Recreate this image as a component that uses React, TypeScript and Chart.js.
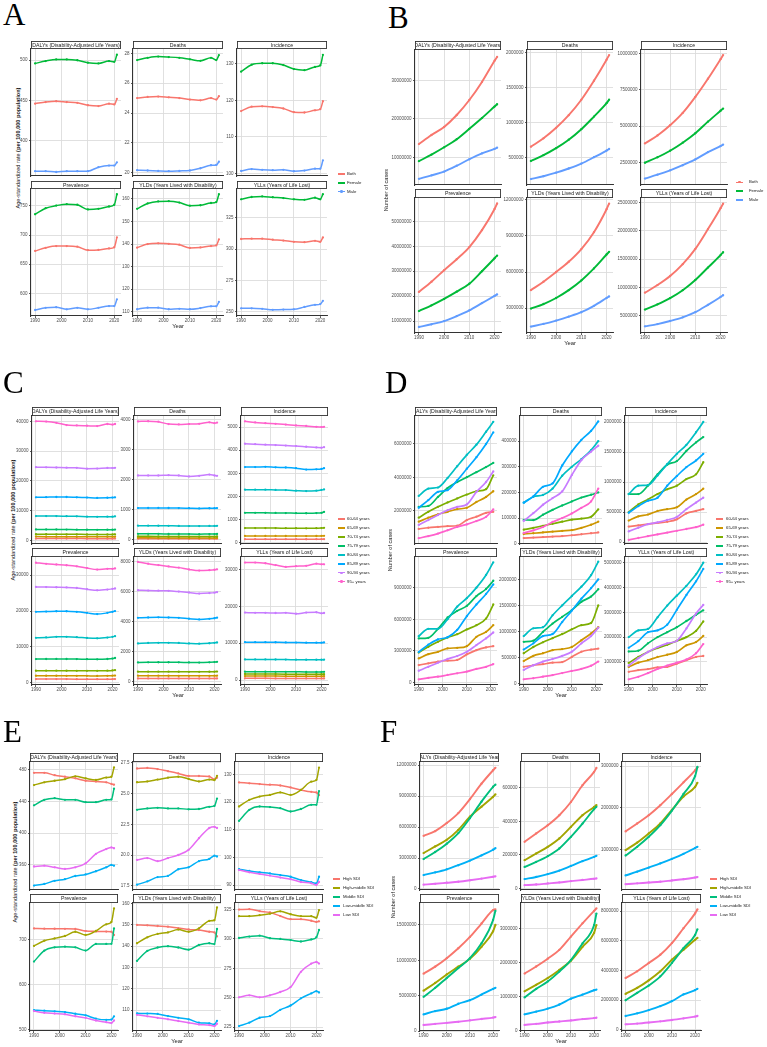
import { useEffect, useRef } from "react";
import type { ReactNode, CSSProperties } from "react";
import { Chart, registerables } from "chart.js";

Chart.register(...registerables);

// ---------- labels & palettes ----------
const METRICS = [
  "DALYs (Disability-Adjusted Life Years)",
  "Deaths",
  "Incidence",
  "Prevalence",
  "YLDs (Years Lived with Disability)",
  "YLLs (Years of Life Lost)",
];
const SEXES = ["Both", "Female", "Male"];
const AGES = ["60-64 years", "65-69 years", "70-74 years", "75-79 years", "80-84 years", "85-89 years", "90-94 years", "95+ years"];
const SDIS = ["High SDI", "High-middle SDI", "Middle SDI", "Low-middle SDI", "Low SDI"];

const SEX_COLORS = ["#F8766D", "#00BA38", "#619CFF"];
const AGE_COLORS = ["#F8766D", "#CD9600", "#7CAE00", "#00BE67", "#00BFC4", "#00A9FF", "#C77CFF", "#FF61CC"];
const SDI_COLORS = ["#F8766D", "#A3A500", "#00BF7D", "#00B0F6", "#E76BF3"];

const YEAR_TICKS = [1990, 2000, 2010, 2020];
const YEARS_RATE = [1990, 1994, 1998, 2002, 2006, 2010, 2014, 2018, 2020, 2021];
const YEARS_COUNT = [1990, 1995, 2000, 2005, 2010, 2015, 2020, 2021];
const YEARS_AGE_COUNT = [1990, 1994, 1998, 2002, 2006, 2010, 2014, 2018, 2021];

// ---------- A: age-standardized rates by sex (Both, Female, Male) ----------
const A_DALYS = [
  [446, 448, 449, 448, 447, 444, 443, 446, 445, 452],
  [496, 499, 501, 501, 500, 497, 496, 499, 498, 507],
  [362, 362, 361, 362, 362, 362, 367, 369, 369, 373],
];
const A_DEATHS = [
  [25.0, 25.08, 25.1, 25.05, 25.0, 24.9, 24.85, 25.0, 24.9, 25.13],
  [27.55, 27.7, 27.78, 27.75, 27.7, 27.6, 27.5, 27.7, 27.55, 27.88],
  [20.17, 20.15, 20.12, 20.1, 20.12, 20.15, 20.3, 20.5, 20.52, 20.74],
];
const A_INCIDENCE = [
  [117.1, 118.3, 118.4, 118.2, 117.8, 116.8, 116.7, 117.3, 117.6, 119.8],
  [127.9, 129.8, 130.2, 130.2, 129.7, 128.6, 128.3, 129.2, 129.6, 132.5],
  [100.7, 101.2, 101.0, 100.9, 101.0, 100.6, 100.8, 101.3, 101.3, 103.6],
];
const A_PREVALENCE = [
  [672.7, 678, 681, 681, 680, 674, 674.5, 677, 679, 696],
  [735.7, 746, 750.5, 753, 752, 744, 745, 749, 752, 770],
  [571.3, 575, 576, 572.5, 575, 572.5, 575, 578, 578, 589.7],
];
const A_YLDS = [
  [138.4, 140.0, 140.3, 140.1, 139.7, 138.3, 138.5, 139.1, 139.4, 142.1],
  [155.6, 158.0, 158.9, 159.0, 158.4, 157.0, 157.2, 158.2, 158.6, 162.1],
  [111.1, 111.8, 111.8, 111.1, 111.3, 111.1, 111.6, 112.4, 112.4, 114.4],
];
const A_YLLS = [
  [308, 308.3, 308.3, 307.5, 306.8, 305.8, 305.5, 306.6, 305.8, 309.3],
  [339.7, 341.5, 342.0, 341.3, 340.7, 339.7, 339.3, 341.0, 339.7, 343.8],
  [252.7, 252.7, 252.3, 251.5, 251.7, 251.9, 253.8, 255.5, 256.1, 258.7],
];

// ---------- B: number of cases by sex ----------
const B_DALYS = [
  [13.45e6, 15.8e6, 17.9e6, 21.0e6, 24.9e6, 29.6e6, 35.1e6, 36.1e6],
  [9.0e6, 10.7e6, 12.6e6, 14.7e6, 17.4e6, 20.2e6, 23.2e6, 23.8e6],
  [4.4e6, 5.3e6, 6.3e6, 7.8e6, 9.5e6, 11.0e6, 12.2e6, 12.5e6],
];
const B_DEATHS = [
  [660e3, 780e3, 930e3, 1110e3, 1330e3, 1600e3, 1900e3, 1965e3],
  [457e3, 540e3, 640e3, 760e3, 910e3, 1090e3, 1280e3, 1330e3],
  [200e3, 240e3, 290e3, 350e3, 420e3, 510e3, 605e3, 628e3],
];
const B_INCIDENCE = [
  [3.8e6, 4.35e6, 5.05e6, 5.9e6, 7.0e6, 8.25e6, 9.6e6, 9.88e6],
  [2.47e6, 2.85e6, 3.3e6, 3.85e6, 4.5e6, 5.3e6, 6.05e6, 6.2e6],
  [1.38e6, 1.65e6, 1.95e6, 2.3e6, 2.7e6, 3.2e6, 3.62e6, 3.72e6],
];
const B_PREVALENCE = [
  [21.7e6, 25.8e6, 30.4e6, 34.8e6, 39.7e6, 46.5e6, 55.0e6, 57.2e6],
  [14.0e6, 16.3e6, 18.9e6, 21.8e6, 25.0e6, 30.0e6, 35.2e6, 36.3e6],
  [7.6e6, 8.7e6, 10.0e6, 12.0e6, 14.3e6, 17.2e6, 20.1e6, 20.7e6],
];
const B_YLDS = [
  [4.5e6, 5.2e6, 6.0e6, 6.85e6, 7.9e6, 9.3e6, 11.2e6, 11.67e6],
  [2.97e6, 3.35e6, 3.85e6, 4.5e6, 5.3e6, 6.3e6, 7.45e6, 7.67e6],
  [1.48e6, 1.7e6, 1.98e6, 2.3e6, 2.67e6, 3.2e6, 3.85e6, 3.98e6],
];
const B_YLLS = [
  [9.05e6, 10.4e6, 12.0e6, 14.1e6, 16.8e6, 20.3e6, 24.0e6, 24.8e6],
  [6.06e6, 7.0e6, 8.1e6, 9.5e6, 11.3e6, 13.5e6, 15.7e6, 16.2e6],
  [3.1e6, 3.5e6, 4.05e6, 4.7e6, 5.6e6, 6.9e6, 8.3e6, 8.6e6],
];

// ---------- C: age-standardized rates by age group ----------
const C_DALYS = [
  [650, 640, 640, 630, 630, 620, 620, 620, 620, 630],
  [1300, 1290, 1280, 1270, 1260, 1250, 1250, 1250, 1250, 1270],
  [2100, 2090, 2080, 2070, 2060, 2040, 2040, 2050, 2050, 2080],
  [3700, 3690, 3680, 3660, 3640, 3600, 3580, 3600, 3610, 3650],
  [8200, 8200, 8200, 8150, 8100, 8000, 7950, 8000, 8000, 8100],
  [14500, 14550, 14600, 14600, 14500, 14400, 14300, 14350, 14400, 14500],
  [24600, 24550, 24500, 24450, 24400, 24100, 24150, 24350, 24300, 24400],
  [40000, 39900, 39500, 38750, 38600, 38500, 38400, 39100, 38900, 39100],
];
const C_DEATHS = [
  [28, 27, 27, 26, 26, 25, 25, 25, 25, 26],
  [55, 54, 53, 52, 51, 50, 50, 50, 50, 51],
  [105, 104, 103, 101, 100, 98, 97, 98, 98, 100],
  [190, 189, 188, 186, 184, 180, 178, 180, 180, 183],
  [460, 460, 458, 455, 452, 448, 445, 450, 450, 455],
  [1045, 1048, 1050, 1048, 1045, 1040, 1035, 1040, 1040, 1045],
  [2130, 2130, 2130, 2140, 2130, 2100, 2120, 2160, 2130, 2120],
  [3930, 3935, 3920, 3840, 3830, 3840, 3850, 3900, 3870, 3890],
];
const C_INCIDENCE = [
  [150, 150, 150, 149, 148, 147, 146, 147, 148, 150],
  [290, 290, 290, 288, 287, 285, 284, 286, 290, 295],
  [630, 630, 630, 628, 625, 622, 620, 625, 630, 640],
  [1290, 1290, 1290, 1285, 1280, 1275, 1270, 1280, 1290, 1330],
  [2290, 2290, 2290, 2280, 2275, 2250, 2230, 2250, 2280, 2300],
  [3270, 3270, 3280, 3260, 3250, 3220, 3160, 3170, 3190, 3220],
  [4280, 4260, 4240, 4220, 4200, 4180, 4150, 4120, 4110, 4130],
  [5250, 5200, 5170, 5140, 5110, 5070, 5050, 5010, 5000, 5010],
];
const C_PREVALENCE = [
  [1020, 1020, 1020, 1010, 1000, 990, 985, 990, 1000, 1010],
  [1940, 1940, 1940, 1930, 1920, 1910, 1900, 1920, 1950, 2000],
  [3340, 3350, 3350, 3340, 3330, 3320, 3310, 3350, 3420, 3500],
  [6600, 6620, 6640, 6620, 6600, 6560, 6540, 6620, 6750, 6900],
  [12540, 12650, 12800, 12800, 12700, 12500, 12400, 12600, 12800, 13000],
  [19800, 19850, 19950, 19950, 19800, 19500, 19150, 19500, 19800, 20000],
  [26750, 26700, 26650, 26600, 26450, 26100, 25800, 26000, 26200, 26300],
  [33500, 33200, 33000, 32800, 32500, 32000, 31600, 31800, 31800, 31900],
];
const C_YLDS = [
  [220, 220, 220, 218, 217, 215, 214, 216, 218, 222],
  [400, 400, 400, 398, 396, 393, 391, 395, 400, 405],
  [670, 670, 670, 668, 665, 660, 657, 665, 672, 680],
  [1290, 1295, 1300, 1300, 1295, 1285, 1280, 1295, 1310, 1330],
  [2560, 2590, 2600, 2600, 2590, 2560, 2540, 2570, 2600, 2620],
  [4270, 4290, 4300, 4290, 4270, 4210, 4160, 4200, 4240, 4280],
  [6110, 6090, 6080, 6070, 6020, 5960, 5890, 5920, 5950, 5980],
  [8000, 7880, 7790, 7700, 7620, 7500, 7420, 7450, 7480, 7510],
];
const C_YLLS = [
  [460, 455, 450, 445, 440, 435, 430, 430, 430, 435],
  [1080, 1075, 1070, 1060, 1050, 1040, 1030, 1030, 1030, 1040],
  [1630, 1625, 1620, 1610, 1600, 1590, 1580, 1580, 1580, 1590],
  [2260, 2255, 2250, 2240, 2230, 2220, 2210, 2210, 2210, 2220],
  [5600, 5600, 5590, 5570, 5550, 5520, 5500, 5500, 5500, 5520],
  [10270, 10280, 10280, 10250, 10220, 10180, 10150, 10150, 10150, 10200],
  [18300, 18250, 18250, 18200, 18250, 18000, 18300, 18400, 18100, 18200],
  [31900, 31900, 31700, 31200, 30700, 30900, 31000, 31600, 31400, 31400],
];

// ---------- D: number of cases by age group ----------
const D_DALYS = [
  [0.93e6, 1.0e6, 1.05e6, 1.1e6, 1.12e6, 1.46e6, 1.66e6, 1.89e6, 1.95e6],
  [1.36e6, 1.6e6, 1.8e6, 1.95e6, 2.11e6, 2.19e6, 2.54e6, 2.84e6, 3.18e6],
  [1.6e6, 1.95e6, 2.25e6, 2.51e6, 2.75e6, 2.98e6, 3.18e6, 3.3e6, 4.13e6],
  [2.25e6, 2.3e6, 2.84e6, 3.37e6, 3.73e6, 4.02e6, 4.32e6, 4.62e6, 4.87e6],
  [2.9e6, 3.34e6, 3.4e6, 3.97e6, 4.67e6, 5.35e6, 5.96e6, 6.73e6, 7.32e6],
  [2.19e6, 2.65e6, 3.14e6, 3.24e6, 3.83e6, 4.52e6, 5.21e6, 6.0e6, 6.69e6],
  [1.17e6, 1.46e6, 1.76e6, 2.05e6, 2.25e6, 2.39e6, 3.14e6, 3.73e6, 4.36e6],
  [0.38e6, 0.5e6, 0.65e6, 0.85e6, 1.05e6, 1.2e6, 1.4e6, 1.65e6, 2.1e6],
];
const D_DEATHS = [
  [22e3, 24e3, 26e3, 28e3, 30e3, 33e3, 37e3, 41e3, 44e3],
  [38e3, 41e3, 44e3, 47e3, 50e3, 53e3, 62e3, 74e3, 86e3],
  [55e3, 62e3, 70e3, 78e3, 86e3, 94e3, 98e3, 105e3, 134e3],
  [93e3, 92e3, 113e3, 132e3, 149e3, 165e3, 180e3, 191e3, 200e3],
  [160e3, 183e3, 190e3, 215e3, 265e3, 300e3, 330e3, 365e3, 400e3],
  [160e3, 185e3, 222e3, 235e3, 305e3, 360e3, 405e3, 440e3, 477e3],
  [89e3, 119e3, 152e3, 178e3, 204e3, 268e3, 326e3, 359e3, 382e3],
  [42e3, 52e3, 65e3, 85e3, 100e3, 118e3, 140e3, 165e3, 215e3],
];
const D_INCIDENCE = [
  [0.26e6, 0.28e6, 0.3e6, 0.32e6, 0.34e6, 0.38e6, 0.48e6, 0.52e6, 0.55e6],
  [0.36e6, 0.43e6, 0.46e6, 0.52e6, 0.55e6, 0.58e6, 0.71e6, 0.8e6, 0.89e6],
  [0.5e6, 0.63e6, 0.71e6, 0.8e6, 0.88e6, 0.94e6, 1.05e6, 1.13e6, 1.33e6],
  [0.8e6, 0.8e6, 0.94e6, 1.13e6, 1.29e6, 1.35e6, 1.52e6, 1.66e6, 1.75e6],
  [0.8e6, 0.94e6, 0.95e6, 1.11e6, 1.3e6, 1.47e6, 1.62e6, 1.83e6, 2.0e6],
  [0.49e6, 0.6e6, 0.69e6, 0.74e6, 0.94e6, 1.1e6, 1.25e6, 1.36e6, 1.47e6],
  [0.18e6, 0.24e6, 0.3e6, 0.33e6, 0.37e6, 0.42e6, 0.55e6, 0.66e6, 0.74e6],
  [0.04e6, 0.07e6, 0.1e6, 0.13e6, 0.16e6, 0.19e6, 0.22e6, 0.25e6, 0.29e6],
];
const D_PREVALENCE = [
  [1.67e6, 1.83e6, 2.0e6, 2.08e6, 2.15e6, 2.68e6, 3.08e6, 3.34e6, 3.46e6],
  [2.3e6, 2.7e6, 2.92e6, 3.25e6, 3.3e6, 3.46e6, 4.34e6, 4.81e6, 5.44e6],
  [2.85e6, 3.4e6, 3.87e6, 4.28e6, 4.59e6, 5.04e6, 5.44e6, 6.07e6, 7.4e6],
  [4.19e6, 4.25e6, 5.1e6, 6.17e6, 6.8e6, 7.27e6, 8.2e6, 8.87e6, 9.65e6],
  [4.4e6, 5.1e6, 5.1e6, 6.0e6, 7.2e6, 8.0e6, 9.0e6, 10.2e6, 11.4e6],
  [2.9e6, 3.6e6, 4.1e6, 4.3e6, 5.0e6, 6.3e6, 7.4e6, 8.4e6, 9.3e6],
  [1.13e6, 1.5e6, 1.89e6, 2.24e6, 2.52e6, 2.92e6, 3.56e6, 4.19e6, 4.75e6],
  [0.32e6, 0.45e6, 0.57e6, 0.73e6, 0.89e6, 1.05e6, 1.3e6, 1.5e6, 1.76e6],
];
const D_YLDS = [
  [0.32e6, 0.35e6, 0.37e6, 0.4e6, 0.41e6, 0.51e6, 0.61e6, 0.65e6, 0.67e6],
  [0.43e6, 0.53e6, 0.58e6, 0.64e6, 0.66e6, 0.7e6, 0.83e6, 0.96e6, 1.08e6],
  [0.58e6, 0.7e6, 0.79e6, 0.87e6, 0.95e6, 1.04e6, 1.12e6, 1.16e6, 1.5e6],
  [0.8e6, 0.82e6, 0.99e6, 1.15e6, 1.28e6, 1.41e6, 1.57e6, 1.67e6, 1.81e6],
  [0.91e6, 1.06e6, 1.08e6, 1.31e6, 1.5e6, 1.68e6, 1.86e6, 2.08e6, 2.34e6],
  [0.65e6, 0.77e6, 0.91e6, 0.95e6, 1.18e6, 1.4e6, 1.63e6, 1.83e6, 2.0e6],
  [0.26e6, 0.35e6, 0.42e6, 0.47e6, 0.53e6, 0.61e6, 0.77e6, 0.91e6, 1.07e6],
  [0.08e6, 0.1e6, 0.13e6, 0.16e6, 0.2e6, 0.24e6, 0.28e6, 0.34e6, 0.42e6],
];
const D_YLLS = [
  [0.6e6, 0.67e6, 0.71e6, 0.78e6, 0.8e6, 0.93e6, 1.07e6, 1.2e6, 1.24e6],
  [0.8e6, 0.97e6, 1.07e6, 1.2e6, 1.29e6, 1.4e6, 1.67e6, 1.8e6, 2.05e6],
  [0.96e6, 1.2e6, 1.4e6, 1.56e6, 1.69e6, 1.85e6, 2.0e6, 2.25e6, 2.63e6],
  [1.42e6, 1.45e6, 1.75e6, 2.0e6, 2.2e6, 2.4e6, 2.65e6, 2.9e6, 3.08e6],
  [2.0e6, 2.27e6, 2.33e6, 2.8e6, 3.27e6, 3.67e6, 4.07e6, 4.53e6, 5.0e6],
  [1.57e6, 1.84e6, 2.2e6, 2.27e6, 2.5e6, 3.1e6, 3.7e6, 4.25e6, 4.75e6],
  [0.85e6, 1.15e6, 1.4e6, 1.6e6, 1.75e6, 1.85e6, 2.35e6, 2.95e6, 3.3e6],
  [0.3e6, 0.4e6, 0.55e6, 0.72e6, 0.85e6, 0.97e6, 1.1e6, 1.35e6, 1.72e6],
];

// ---------- E: age-standardized rates by SDI ----------
const E_DALYS = [
  [476, 476, 473, 471, 469, 466, 465, 464, 462, 461],
  [460.5, 464, 466, 468, 471.5, 469, 467, 470, 471, 482.8],
  [435, 442, 444, 442, 442, 439, 439, 442, 442.5, 456],
  [334, 336, 340, 342, 346, 348, 352, 357, 360, 359],
  [358, 359, 357, 355, 357, 362, 374, 380, 382, 381],
];
const E_DEATHS = [
  [27.05, 27.1, 27.0, 26.83, 26.65, 26.44, 26.44, 26.4, 26.17, 26.3],
  [25.93, 26.0, 26.15, 26.3, 26.38, 26.2, 26.0, 26.15, 26.1, 26.45],
  [23.68, 23.8, 23.85, 23.8, 23.8, 23.72, 23.75, 23.93, 24.0, 24.6],
  [17.58, 17.85, 18.2, 18.3, 18.84, 19.0, 19.5, 19.68, 19.95, 19.88],
  [19.6, 19.75, 19.5, 19.75, 20.0, 20.42, 21.37, 22.2, 22.3, 22.2],
];
const E_INCIDENCE = [
  [127.1, 126.8, 126.5, 126.3, 126.0, 125.3, 124.4, 123.7, 123.5, 122.5],
  [118.4, 120.8, 122.0, 122.6, 123.5, 122.6, 124.4, 127.4, 128.0, 132.5],
  [113.2, 117.2, 118.4, 118.2, 117.8, 116.6, 117.5, 119.0, 119.0, 124.0],
  [95.7, 95.1, 94.6, 94.2, 93.6, 93.0, 91.8, 91.0, 90.6, 93.0],
  [95.4, 94.6, 94.0, 93.4, 92.7, 92.1, 91.1, 90.6, 90.0, 91.1],
];
const E_PREVALENCE = [
  [724.3, 723.8, 723.5, 723.3, 723, 718.3, 717.7, 717.3, 717, 709.6],
  [685.3, 697, 702, 707.4, 716.9, 709.6, 718.5, 733.4, 738.5, 768.7],
  [650.6, 674.9, 682.3, 683.8, 682.3, 675, 689.7, 689.7, 690, 724.3],
  [542.6, 541.5, 540, 538.3, 534.6, 531.1, 523.7, 521, 521.7, 528.9],
  [540.4, 536.7, 535, 533.4, 529, 525.4, 519.5, 515.8, 513.9, 519.5],
];
const E_YLDS = [
  [150, 149.8, 149.5, 149.2, 148.5, 147.9, 147.6, 146.8, 146.5, 144.6],
  [141.4, 144.2, 145.8, 146.5, 147.8, 146.8, 148.4, 151.9, 152.2, 158.2],
  [133.1, 137.8, 139.4, 140, 139.4, 138.4, 140.6, 141.4, 141, 148.1],
  [108.5, 108.4, 108.2, 107.2, 106.4, 105.7, 104.1, 103.8, 103.3, 105],
  [107.8, 107.1, 106.4, 105.7, 104.9, 104.1, 103.3, 103, 102.5, 103.6],
];
const E_YLLS = [
  [325, 325.3, 323.6, 322.5, 319.5, 316.8, 316.8, 315.5, 314.5, 315],
  [319.4, 319.4, 320.2, 321.5, 323.5, 321, 319.4, 319.4, 318, 324.6],
  [300.8, 302, 302.8, 300.6, 300, 299, 297.8, 299.6, 301.5, 307.6],
  [225.8, 228.7, 232.9, 234.3, 239.6, 243.3, 249.4, 253.6, 255.5, 254.4],
  [250.3, 252, 250.3, 252, 254.8, 259, 272, 279, 280.4, 279],
];

// ---------- F: number of cases by SDI ----------
const F_DALYS = [
  [5.15e6, 5.6e6, 6.38e6, 7.35e6, 8.7e6, 10.2e6, 11.5e6, 11.74e6],
  [3.48e6, 4.12e6, 4.76e6, 5.73e6, 7.0e6, 7.97e6, 8.93e6, 9.16e6],
  [2.9e6, 3.58e6, 4.38e6, 5.41e6, 6.86e6, 8.46e6, 9.9e6, 10.1e6],
  [1.35e6, 1.6e6, 1.9e6, 2.3e6, 2.75e6, 3.25e6, 3.8e6, 3.95e6],
  [0.42e6, 0.5e6, 0.6e6, 0.7e6, 0.84e6, 1.0e6, 1.18e6, 1.22e6],
];
const F_DEATHS = [
  [278e3, 328e3, 377e3, 437e3, 516e3, 616e3, 696e3, 719e3],
  [168e3, 208e3, 248e3, 298e3, 367e3, 437e3, 486e3, 497e3],
  [128e3, 158e3, 192e3, 238e3, 308e3, 387e3, 473e3, 487e3],
  [55e3, 68e3, 85e3, 106e3, 134e3, 162e3, 188e3, 194e3],
  [19e3, 23e3, 29e3, 35e3, 43e3, 50e3, 57e3, 59e3],
];
const F_INCIDENCE = [
  [1.43e6, 1.62e6, 1.82e6, 2.06e6, 2.33e6, 2.61e6, 2.9e6, 2.97e6],
  [0.98e6, 1.16e6, 1.38e6, 1.62e6, 1.95e6, 2.27e6, 2.5e6, 2.6e6],
  [0.85e6, 1.06e6, 1.3e6, 1.58e6, 1.93e6, 2.33e6, 2.76e6, 2.98e6],
  [0.37e6, 0.46e6, 0.56e6, 0.66e6, 0.77e6, 0.89e6, 1.03e6, 1.06e6],
  [0.16e6, 0.18e6, 0.2e6, 0.22e6, 0.25e6, 0.28e6, 0.32e6, 0.33e6],
];
const F_PREVALENCE = [
  [8.1e6, 9.1e6, 10.3e6, 11.7e6, 13.3e6, 15.2e6, 17.1e6, 17.2e6],
  [5.7e6, 6.8e6, 8.0e6, 9.1e6, 10.2e6, 11.9e6, 14.1e6, 15.0e6],
  [4.83e6, 6.1e6, 7.5e6, 8.9e6, 10.3e6, 12.4e6, 15.7e6, 17.0e6],
  [2.35e6, 2.81e6, 3.15e6, 3.85e6, 4.35e6, 5.15e6, 5.95e6, 6.1e6],
  [0.85e6, 1.0e6, 1.15e6, 1.3e6, 1.5e6, 1.7e6, 1.9e6, 1.97e6],
];
const F_YLDS = [
  [1.67e6, 1.88e6, 2.11e6, 2.37e6, 2.76e6, 3.15e6, 3.52e6, 3.59e6],
  [1.15e6, 1.34e6, 1.54e6, 1.78e6, 2.05e6, 2.46e6, 2.87e6, 3.1e6],
  [0.97e6, 1.22e6, 1.44e6, 1.73e6, 2.07e6, 2.56e6, 3.1e6, 3.44e6],
  [0.47e6, 0.55e6, 0.64e6, 0.76e6, 0.93e6, 1.05e6, 1.18e6, 1.2e6],
  [0.16e6, 0.19e6, 0.23e6, 0.26e6, 0.29e6, 0.33e6, 0.36e6, 0.37e6],
];
const F_YLLS = [
  [3.5e6, 3.95e6, 4.51e6, 5.07e6, 5.85e6, 6.85e6, 7.85e6, 8.12e6],
  [2.43e6, 2.83e6, 3.34e6, 3.95e6, 4.73e6, 5.4e6, 6.07e6, 6.2e6],
  [2.0e6, 2.5e6, 2.99e6, 3.61e6, 4.51e6, 5.51e6, 6.4e6, 6.78e6],
  [0.94e6, 1.12e6, 1.34e6, 1.6e6, 1.94e6, 2.39e6, 2.68e6, 2.77e6],
  [0.38e6, 0.43e6, 0.5e6, 0.58e6, 0.67e6, 0.78e6, 0.9e6, 0.94e6],
];

// ---------- types ----------
type Plot = { series: number[][]; ticks: number[]; range: [number, number]; digits?: number };
type Geom = {
  colX: number[];
  plotW: number;
  rowY: number[];
  plotH: number;
  stripH: number;
  axW: number;
  letter: { x: number; baseline: number };
  yTitle: { x: number; y: number };
  legend: { lineX: number; textX: number; y0: number; dy: number };
};
type PanelSpec = {
  letter: string;
  years: number[];
  names: string[];
  colors: string[];
  plots: Plot[];
  geom: Geom;
  rate: boolean;
  lineWidth: number;
};

// ---------- panels ----------
const PANELS: PanelSpec[] = [
  {
    letter: "A",
    years: YEARS_RATE,
    names: SEXES,
    colors: SEX_COLORS,
    rate: true,
    lineWidth: 1.5,
    plots: [
      { series: A_DALYS, ticks: [400, 450, 500], range: [356, 514] },
      { series: A_DEATHS, ticks: [20, 22, 24, 26, 28], range: [19.78, 28.29] },
      { series: A_INCIDENCE, ticks: [100, 110, 120, 130], range: [99.3, 134.1] },
      { series: A_PREVALENCE, ticks: [600, 650, 700, 750], range: [561, 779] },
      { series: A_YLDS, ticks: [110, 120, 130, 140, 150, 160], range: [108.1, 164.4] },
      { series: A_YLLS, ticks: [250, 275, 300, 325], range: [246.6, 347.9] },
    ],
    geom: {
      colX: [31, 133, 237], plotW: 90, rowY: [49, 189], plotH: 127, stripH: 8, axW: 22,
      letter: { x: 3, baseline: 25 },
      yTitle: { x: 17.5, y: 148 },
      legend: { lineX: 338, textX: 347, y0: 174, dy: 8.8 },
    },
  },
  {
    letter: "B",
    years: YEARS_COUNT,
    names: SEXES,
    colors: SEX_COLORS,
    rate: false,
    lineWidth: 1.9,
    plots: [
      { series: B_DALYS, ticks: [10e6, 20e6, 30e6], range: [2.8e6, 37.9e6] },
      { series: B_DEATHS, ticks: [500e3, 1000e3, 1500e3, 2000e3], range: [115e3, 2038e3] },
      { series: B_INCIDENCE, ticks: [2.5e6, 5e6, 7.5e6, 10e6], range: [0.94e6, 10.23e6] },
      { series: B_PREVALENCE, ticks: [10e6, 20e6, 30e6, 40e6, 50e6], range: [5.2e6, 59.4e6] },
      { series: B_YLDS, ticks: [3e6, 6e6, 9e6, 12e6], range: [0.95e6, 12.13e6] },
      { series: B_YLLS, ticks: [5e6, 10e6, 15e6, 20e6, 25e6], range: [1.92e6, 25.8e6] },
    ],
    geom: {
      colX: [415, 527, 641], plotW: 86, rowY: [50, 198], plotH: 135, stripH: 9, axW: 30,
      letter: { x: 388, baseline: 28 },
      yTitle: { x: 386, y: 190 },
      legend: { lineX: 736, textX: 748.5, y0: 182.3, dy: 8.8 },
    },
  },
  {
    letter: "C",
    years: YEARS_RATE,
    names: AGES,
    colors: AGE_COLORS,
    rate: true,
    lineWidth: 1.5,
    plots: [
      { series: C_DALYS, ticks: [0, 10000, 20000, 30000, 40000], range: [-1180, 41780] },
      { series: C_DEATHS, ticks: [0, 1000, 2000, 3000, 4000], range: [-150, 4110] },
      { series: C_INCIDENCE, ticks: [0, 1000, 2000, 3000, 4000, 5000], range: [-60, 5480] },
      { series: C_PREVALENCE, ticks: [0, 10000, 20000, 30000], range: [-640, 35100] },
      { series: C_YLDS, ticks: [0, 2000, 4000, 6000, 8000], range: [-220, 8330] },
      { series: C_YLLS, ticks: [0, 10000, 20000, 30000], range: [-1350, 33400] },
    ],
    geom: {
      colX: [32, 134, 241], plotW: 87, rowY: [416, 557], plotH: 128, stripH: 9, axW: 22,
      letter: { x: 3, baseline: 393 },
      yTitle: { x: 12.5, y: 520 },
      legend: { lineX: 338, textX: 346.7, y0: 519, dy: 8.95 },
    },
  },
  {
    letter: "D",
    years: YEARS_AGE_COUNT,
    names: AGES,
    colors: AGE_COLORS,
    rate: false,
    lineWidth: 1.7,
    plots: [
      { series: D_DALYS, ticks: [2e6, 4e6, 6e6], range: [0.03e6, 7.67e6] },
      { series: D_DEATHS, ticks: [0, 100e3, 200e3, 300e3, 400e3], range: [-1e3, 498e3] },
      { series: D_INCIDENCE, ticks: [0, 500e3, 1000e3, 1500e3, 2000e3], range: [-0.03e6, 2.1e6] },
      { series: D_PREVALENCE, ticks: [0, 3e6, 6e6, 9e6], range: [-0.22e6, 11.9e6] },
      { series: D_YLDS, ticks: [0, 500e3, 1000e3, 1500e3, 2000e3], range: [-0.03e6, 2.43e6] },
      { series: D_YLLS, ticks: [1e6, 2e6, 3e6, 4e6, 5e6], range: [0.07e6, 5.23e6] },
    ],
    geom: {
      colX: [415, 520, 625], plotW: 82, rowY: [416, 557], plotH: 128, stripH: 9, axW: 30,
      letter: { x: 385, baseline: 393 },
      yTitle: { x: 389.5, y: 549.5 },
      legend: { lineX: 716.3, textX: 726.3, y0: 519, dy: 8.95 },
    },
  },
  {
    letter: "E",
    years: YEARS_RATE,
    names: SDIS,
    colors: SDI_COLORS,
    rate: true,
    lineWidth: 1.5,
    plots: [
      { series: E_DALYS, ticks: [360, 400, 440, 480], range: [328.4, 489.6] },
      { series: E_DEATHS, ticks: [17.5, 20, 22.5, 25, 27.5], range: [17.15, 27.58], digits: 1 },
      { series: E_INCIDENCE, ticks: [90, 100, 110, 120, 130], range: [88.2, 134.5] },
      { series: E_PREVALENCE, ticks: [500, 600, 700], range: [496.2, 780.8] },
      { series: E_YLDS, ticks: [110, 120, 130, 140, 150, 160], range: [100.2, 160.3] },
      { series: E_YLLS, ticks: [225, 250, 275, 300, 325], range: [221.6, 330.6] },
    ],
    geom: {
      colX: [30, 133, 235], plotW: 88, rowY: [762, 903], plotH: 128, stripH: 9, axW: 22,
      letter: { x: 3, baseline: 742 },
      yTitle: { x: 15, y: 861.5 },
      legend: { lineX: 333.3, textX: 343.3, y0: 879, dy: 9 },
    },
  },
  {
    letter: "F",
    years: YEARS_COUNT,
    names: SDIS,
    colors: SDI_COLORS,
    rate: false,
    lineWidth: 1.9,
    plots: [
      { series: F_DALYS, ticks: [0, 3e6, 6e6, 9e6, 12e6], range: [-0.1e6, 12.3e6] },
      { series: F_DEATHS, ticks: [0, 200e3, 400e3, 600e3], range: [-10e3, 755e3] },
      { series: F_INCIDENCE, ticks: [1e6, 2e6, 3e6], range: [0.02e6, 3.1e6] },
      { series: F_PREVALENCE, ticks: [0, 5e6, 10e6, 15e6], range: [0, 18.1e6] },
      { series: F_YLDS, ticks: [0, 1e6, 2e6, 3e6], range: [-0.02e6, 3.75e6] },
      { series: F_YLLS, ticks: [0, 2e6, 4e6, 6e6, 8e6], range: [-0.07e6, 8.55e6] },
    ],
    geom: {
      colX: [420, 521, 622], plotW: 79, rowY: [762, 903], plotH: 128, stripH: 9, axW: 30,
      letter: { x: 380, baseline: 742 },
      yTitle: { x: 393, y: 897 },
      legend: { lineX: 709.7, textX: 720.3, y0: 879, dy: 9 },
    },
  },
];

// ---------- styling ----------
const SANS = '"Liberation Sans", Arial, sans-serif';
const TEXT = "#1A1A1A";
const TICK_TEXT = "#4D4D4D";
const GRID = "#DCDCDC";
const AXIS = "#333333";
const PAD_R = 4;
const AX_H = 10;

// facet strip: outlined box above the panel with a centred (and clipped) title
const stripPlugin = {
  id: "strip",
  afterDraw(chart: any, _args: any, opts: any) {
    const { ctx, chartArea } = chart;
    const h = opts.height as number;
    const x = chartArea.left;
    const w = chartArea.right - chartArea.left;
    const y = chartArea.top - h;
    ctx.save();
    ctx.fillStyle = "#FFFFFF";
    ctx.fillRect(x, y, w, h);
    ctx.strokeStyle = "#333333";
    ctx.lineWidth = 0.9;
    ctx.strokeRect(x + 0.45, y + 0.45, w - 0.9, h - 0.9);
    ctx.beginPath();
    ctx.rect(x + 0.9, y, w - 1.8, h);
    ctx.clip();
    ctx.fillStyle = TEXT;
    ctx.font = `5.2px ${SANS}`;
    ctx.textAlign = "center";
    ctx.textBaseline = "middle";
    ctx.fillText(opts.text, x + w / 2, y + h / 2 + 0.4);
    ctx.restore();
  },
};

// Small HTML text: laid out at twice the size and scaled down, so sub-6px
// sizes are not bumped up by the browser's minimum font size.
function Small(props: {
  x: number;
  y: number;
  size: number;
  align: "left" | "center";
  rotate?: boolean;
  children: ReactNode;
}) {
  const { x, y, size, align, rotate, children } = props;
  const base: CSSProperties = {
    position: "absolute",
    left: x,
    top: y,
    fontSize: size * 2,
    lineHeight: `${size * 2.4}px`,
    whiteSpace: "nowrap",
    color: TEXT,
  };
  const transform =
    align === "left"
      ? "translateY(-50%) scale(0.5)"
      : `translate(-50%, -50%)${rotate ? " rotate(-90deg)" : ""} scale(0.5)`;
  const origin = align === "left" ? "left center" : "center center";
  return <div style={{ ...base, transform, transformOrigin: origin }}>{children}</div>;
}

function Subplot(props: {
  plot: Plot;
  title: string;
  years: number[];
  colors: string[];
  names: string[];
  g: Geom;
  col: number;
  row: number;
  lineWidth: number;
}) {
  const { plot, title, years, colors, names, g, col, row, lineWidth } = props;
  const ref = useRef<HTMLCanvasElement>(null);
  const width = g.axW + g.plotW + PAD_R;
  const height = g.stripH + g.plotH + AX_H;
  const left = g.colX[col] - g.axW;
  const top = g.rowY[row] - g.stripH;
  // facet_wrap style: only the bottom row carries x-axis ticks and labels
  const outerX = row === 1;

  useEffect(() => {
    const canvas = ref.current;
    if (!canvas) return;
    const digits = plot.digits ?? 0;
    const tickFont = { family: SANS, size: 4.5 };
    const chart = new Chart(canvas, {
      type: "line",
      data: {
        datasets: plot.series.map((vals, i) => ({
          label: names[i],
          data: years.map((yr, j) => ({ x: yr, y: vals[j] })),
          borderColor: colors[i],
          backgroundColor: colors[i],
          pointBackgroundColor: colors[i],
          borderWidth: lineWidth,
          pointRadius: 1.15,
          pointBorderWidth: 0,
          pointHoverRadius: 0,
          cubicInterpolationMode: "monotone",
          fill: false,
          order: -i,
        })),
      },
      options: {
        responsive: false,
        animation: false,
        devicePixelRatio: 1,
        events: [],
        layout: { padding: { top: g.stripH, right: PAD_R, left: 0, bottom: 0 }, autoPadding: false },
        plugins: {
          legend: { display: false },
          tooltip: { enabled: false },
          strip: { text: title, height: g.stripH },
        } as any,
        scales: {
          x: {
            type: "linear",
            min: 1988.45,
            max: 2022.55,
            afterBuildTicks: (s: any) => {
              s.ticks = YEAR_TICKS.map((v) => ({ value: v }));
            },
            afterFit: (s: any) => {
              s.height = AX_H;
            },
            grid: {
              color: GRID,
              lineWidth: 0.9,
              drawTicks: outerX,
              tickLength: 2,
              tickColor: AXIS,
              tickWidth: 0.8,
            },
            border: { display: true, color: AXIS, width: 1.1 },
            ticks: {
              display: outerX,
              font: tickFont,
              color: TICK_TEXT,
              padding: 0.5,
              maxRotation: 0,
              autoSkip: false,
              callback: (v: any) => String(v),
            },
          },
          y: {
            type: "linear",
            min: plot.range[0],
            max: plot.range[1],
            afterBuildTicks: (s: any) => {
              s.ticks = plot.ticks.map((v) => ({ value: v }));
            },
            afterFit: (s: any) => {
              s.width = g.axW;
            },
            grid: { color: GRID, lineWidth: 0.9, tickLength: 2, tickColor: AXIS, tickWidth: 0.8 },
            border: { display: true, color: AXIS, width: 1.1 },
            ticks: {
              font: tickFont,
              color: TICK_TEXT,
              padding: 1.5,
              autoSkip: false,
              callback: (v: any) => Number(v).toFixed(digits),
            },
          },
        },
      } as any,
      plugins: [stripPlugin as any],
    });
    return () => chart.destroy();
  }, []);

  return (
    <canvas
      ref={ref}
      width={width}
      height={height}
      style={{ position: "absolute", left, top, width, height }}
    />
  );
}

function Legend({ p }: { p: PanelSpec }) {
  const L = p.geom.legend;
  return (
    <>
      {p.names.map((name, i) => {
        const cy = L.y0 + i * L.dy;
        return (
          <div key={name}>
            <div
              style={{
                position: "absolute",
                left: L.lineX,
                top: cy - 0.75,
                width: 7,
                height: 1.5,
                background: p.colors[i],
              }}
            />
            <div
              style={{
                position: "absolute",
                left: L.lineX + 2.3,
                top: cy - 1.2,
                width: 2.4,
                height: 2.4,
                borderRadius: "50%",
                background: p.colors[i],
              }}
            />
            <Small x={L.textX} y={cy} size={4.3} align="left">
              {name}
            </Small>
          </div>
        );
      })}
    </>
  );
}

function Panel({ p }: { p: PanelSpec }) {
  const g = p.geom;
  const bottom = g.rowY[1] + g.plotH;
  const midX = g.colX[1] + g.plotW / 2;
  return (
    <>
      <div
        style={{
          position: "absolute",
          left: g.letter.x,
          top: g.letter.baseline - 26,
          fontFamily: '"Liberation Serif", "Times New Roman", serif',
          fontSize: 31,
          lineHeight: "31px",
          color: "#000",
        }}
      >
        {p.letter}
      </div>
      <Small x={g.yTitle.x} y={g.yTitle.y} size={5.6} align="center" rotate>
        {p.rate ? (
          <>
            Age-standardized rate <b>(per 100,000 population)</b>
          </>
        ) : (
          "Number of cases"
        )}
      </Small>
      {p.plots.map((plot, i) => (
        <Subplot
          key={i}
          plot={plot}
          title={METRICS[i]}
          years={p.years}
          colors={p.colors}
          names={p.names}
          g={g}
          col={i % 3}
          row={Math.floor(i / 3)}
          lineWidth={p.lineWidth}
        />
      ))}
      <Small x={midX} y={bottom + 10} size={5.8} align="center">
        Year
      </Small>
      <Legend p={p} />
    </>
  );
}

export default function App() {
  useEffect(() => {
    document.body.style.margin = "0";
  }, []);
  return (
    <div
      style={{
        position: "absolute",
        left: 0,
        top: 0,
        width: 767,
        height: 1047,
        background: "#FFFFFF",
        overflow: "hidden",
        fontFamily: SANS,
      }}
    >
      {PANELS.map((p) => (
        <Panel key={p.letter} p={p} />
      ))}
    </div>
  );
}
